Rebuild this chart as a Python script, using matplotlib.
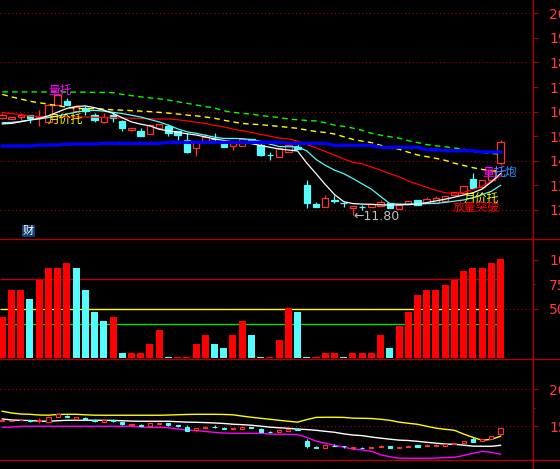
#!/usr/bin/env python3
"""
plot.py
Daily candles with moving averages, a 0-100 indicator histogram and a
compressed price panel underneath, drawn in the black trading-terminal look.
"""
import matplotlib
matplotlib.use("Agg")
import matplotlib.pyplot as plt
from matplotlib.lines import Line2D

plt.rcParams['font.family'] = ['DejaVu Sans', 'Noto Sans CJK SC']

# --- candles (one entry per trading day) ---
OPEN = [15.75, 15.71, 15.80, 15.85, 15.76, 15.59, 16.27, 16.43, 16.02, 16.16,
        15.86, 15.59, 15.86, 15.63, 15.24, 15.22, 15.08, 15.35, 15.41, 15.21,
        14.85, 14.51, 14.82, 14.89, 14.71, 14.60, 14.60, 14.87, 14.64, 14.25,
        14.17, 14.37, 14.57, 13.02, 12.24, 12.11, 12.39, 12.28, 12.08, 12.12,
        12.13, 12.16, 12.27, 12.03, 12.24, 12.41, 12.27, 12.30, 12.38, 12.61,
        12.68, 13.25, 12.95, 13.22, 13.90]
HIGH = [15.95, 15.80, 15.93, 15.88, 16.07, 16.30, 16.72, 16.55, 16.25, 16.23,
        15.94, 15.94, 15.94, 15.65, 15.35, 15.33, 15.46, 15.50, 15.50, 15.21,
        15.12, 14.78, 15.09, 15.12, 14.85, 14.71, 14.87, 14.90, 14.82, 14.37,
        14.52, 14.64, 14.71, 13.22, 12.34, 12.61, 12.61, 12.34, 12.16, 12.20,
        12.24, 12.41, 12.27, 12.20, 12.38, 12.41, 12.54, 12.57, 12.57, 12.74,
        12.98, 13.52, 13.22, 13.63, 14.85]
LOW = [15.70, 15.71, 15.65, 15.52, 15.42, 15.55, 16.25, 16.27, 16.00, 15.86,
       15.58, 15.55, 15.58, 15.20, 15.22, 15.00, 15.08, 15.30, 15.02, 14.85,
       14.30, 14.21, 14.82, 14.78, 14.57, 14.44, 14.60, 14.78, 14.20, 14.03,
       14.17, 14.37, 14.47, 12.07, 12.11, 12.11, 12.27, 12.11, 11.80, 12.00,
       12.13, 12.16, 12.07, 12.03, 12.24, 12.20, 12.27, 12.30, 12.38, 12.61,
       12.68, 12.88, 12.95, 13.22, 13.83]
CLOSE = [15.85, 15.78, 15.88, 15.75, 15.79, 16.27, 16.67, 16.27, 16.20, 16.02,
         15.66, 15.79, 15.73, 15.32, 15.35, 15.02, 15.46, 15.50, 15.12, 15.05,
         14.37, 14.78, 14.96, 14.88, 14.57, 14.71, 14.87, 14.78, 14.24, 14.23,
         14.52, 14.64, 14.47, 12.30, 12.11, 12.48, 12.38, 12.27, 12.16, 12.11,
         12.24, 12.34, 12.07, 12.20, 12.38, 12.20, 12.43, 12.48, 12.57, 12.74,
         12.98, 12.88, 13.22, 13.63, 14.78]

# --- moving averages on the price panel ---
MA_WHITE = [15.50, 15.52, 15.59, 15.66, 15.72, 15.83, 15.98, 16.13, 16.21, 16.23,
            16.16, 16.06, 15.93, 15.75, 15.58, 15.49, 15.42, 15.28, 15.22, 15.16,
            15.10, 15.05, 14.97, 14.89, 14.83, 14.77, 14.74, 14.70, 14.62, 14.55,
            14.48, 14.44, 14.40, 13.91, 13.48, 13.04, 12.63, 12.34, 12.26, 12.24,
            12.23, 12.21, 12.20, 12.21, 12.22, 12.24, 12.30, 12.37, 12.44, 12.52,
            12.61, 12.70, 12.85, 13.14, 13.48]
MA_CYAN = [15.55, 15.56, 15.60, 15.66, 15.70, 15.76, 15.82, 15.90, 15.98, 16.03,
           16.05, 16.02, 15.97, 15.92, 15.85, 15.78, 15.68, 15.58, 15.45, 15.30,
           15.18, 15.12, 15.04, 14.96, 14.91, 14.91, 14.90, 14.86, 14.79, 14.68,
           14.58, 14.57, 14.57, 14.40, 14.06, 13.82, 13.62, 13.48, 13.28, 13.06,
           12.85, 12.55, 12.26, 12.24, 12.24, 12.24, 12.26, 12.27, 12.31, 12.36,
           12.41, 12.50, 12.62, 12.76, 13.00]
MA_RED = [15.96, 15.92, 15.88, 15.82, 15.80, 15.79, 15.79, 15.79, 15.79, 15.78,
          15.77, 15.76, 15.75, 15.74, 15.73, 15.72, 15.71, 15.70, 15.70, 15.67,
          15.62, 15.57, 15.52, 15.44, 15.38, 15.29, 15.22, 15.15, 15.07, 15.00,
          14.92, 14.89, 14.80, 14.66, 14.53, 14.38, 14.23, 14.08, 13.94, 13.88,
          13.75, 13.62, 13.48, 13.35, 13.18, 13.05, 12.92, 12.80, 12.70, 12.68,
          12.72, 12.83, 12.96, 13.17, 13.38]
MA_YELLOW = [16.70, 16.60, 16.51, 16.42, 16.36, 16.30, 16.24, 16.18, 16.13, 16.12,
             16.12, 16.10, 16.07, 16.06, 16.04, 16.02, 16.00, 15.97, 15.94, 15.90,
             15.86, 15.83, 15.78, 15.73, 15.65, 15.58, 15.52, 15.49, 15.47, 15.43,
             15.40, 15.36, 15.32, 15.25, 15.19, 15.15, 15.09, 14.98, 14.87, 14.80,
             14.74, 14.63, 14.55, 14.47, 14.35, 14.24, 14.17, 14.10, 14.02, 13.90,
             13.81, 13.72, 13.65, 13.60, 13.57]
MA_GREEN = [16.80, 16.80, 16.80, 16.80, 16.80, 16.80, 16.80, 16.80, 16.79, 16.79,
            16.78, 16.78, 16.77, 16.70, 16.65, 16.60, 16.56, 16.52, 16.47, 16.40,
            16.34, 16.27, 16.20, 16.15, 16.03, 15.97, 15.93, 15.90, 15.84, 15.80,
            15.76, 15.70, 15.67, 15.64, 15.62, 15.55, 15.45, 15.40, 15.33, 15.24,
            15.12, 15.04, 14.98, 14.92, 14.82, 14.74, 14.66, 14.61, 14.57, 14.52,
            14.47, 14.38, 14.34, 14.30, 14.26]
MA_BLUE = [14.60, 14.60, 14.60, 14.60, 14.64, 14.64, 14.64, 14.68, 14.68, 14.68,
           14.68, 14.71, 14.71, 14.71, 14.71, 14.71, 14.71, 14.71, 14.75, 14.75,
           14.75, 14.75, 14.75, 14.75, 14.75, 14.75, 14.75, 14.75, 14.75, 14.75,
           14.75, 14.71, 14.71, 14.71, 14.71, 14.71, 14.63, 14.63, 14.63, 14.63,
           14.63, 14.55, 14.55, 14.55, 14.55, 14.55, 14.45, 14.45, 14.41, 14.41,
           14.41, 14.41, 14.36, 14.36, 14.36]

# --- 0-100 indicator histogram ('r' = red bar, 'c' = cyan bar) ---
IND_VALUES = [42, 69, 69, 60, 79, 92, 92, 97, 92, 69,
              47, 38, 42, 5, 5, 5, 14, 29, 1, 1,
              1, 14, 24, 14, 10, 24, 38, 24, 1, 1,
              19, 51, 47, 1, 1, 5, 5, 1, 5, 5,
              5, 24, 10, 33, 47, 64, 69, 69, 74, 79,
              88, 92, 92, 97, 101]
IND_COLORS = ['r', 'r', 'r', 'c', 'r', 'r', 'r', 'r', 'c', 'c',
              'c', 'c', 'r', 'c', 'r', 'r', 'r', 'r', 'c', 'r',
              'r', 'r', 'r', 'c', 'c', 'r', 'r', 'c', 'c', 'r',
              'r', 'r', 'c', 'c', 'r', 'r', 'r', 'c', 'r', 'r',
              'r', 'r', 'c', 'r', 'r', 'r', 'r', 'r', 'r', 'r',
              'r', 'r', 'r', 'r', 'r']
IND_LEVELS = [80, 50, 35]
IND_LEVEL_COLORS = ['#c00000', '#ffff00', '#00e000']

# --- lower panel lines ---
SUB_YELLOW = [17.03, 16.80, 16.66, 16.62, 16.52, 16.50, 16.60, 16.62, 16.62, 16.55,
              16.50, 16.49, 16.49, 16.49, 16.49, 16.49, 16.49, 16.49, 16.52, 16.56,
              16.60, 16.62, 16.62, 16.62, 16.60, 16.55, 16.38, 16.22, 16.08, 15.95,
              15.81, 15.68, 15.56, 15.90, 16.20, 16.22, 16.22, 16.20, 16.10, 16.08,
              16.05, 15.95, 15.81, 15.56, 15.41, 15.27, 15.00, 14.75, 14.59, 14.46,
              13.95, 13.51, 13.11, 13.24, 13.65]
SUB_WHITE = [15.99, 15.85, 15.81, 15.78, 15.70, 15.68, 15.75, 15.81, 15.81, 15.81,
             15.81, 15.81, 15.79, 15.75, 15.70, 15.68, 15.68, 15.68, 15.68, 15.62,
             15.56, 15.54, 15.50, 15.45, 15.38, 15.28, 15.22, 15.14, 15.02, 14.88,
             14.80, 14.73, 14.62, 14.56, 14.46, 14.32, 14.19, 13.98, 13.82, 13.74,
             13.55, 13.40, 13.26, 13.13, 13.08, 12.97, 12.84, 12.72, 12.60, 12.57,
             12.45, 12.32, 12.30, 12.30, 12.43]
SUB_MAGENTA = [14.86, 14.90, 15.00, 15.00, 15.00, 15.00, 15.00, 15.00, 15.00, 15.00,
               15.00, 15.00, 15.00, 15.00, 15.00, 14.90, 14.86, 14.86, 14.80, 14.65,
               14.48, 14.42, 14.30, 14.18, 14.08, 14.05, 14.05, 14.05, 14.03, 13.95,
               13.92, 13.92, 13.88, 13.50, 13.00, 12.70, 12.45, 12.18, 11.92, 11.80,
               11.62, 11.15, 10.89, 10.70, 10.68, 10.68, 10.68, 10.70, 10.78, 10.81,
               11.05, 11.35, 11.60, 11.49, 11.22]

PRICE_TICKS = [12, 13, 14, 15, 16, 17, 18, 19, 20]
PRICE_GRID = [12, 14, 16, 18, 20]
IND_TICKS = [50, 100]
IND_MINOR = [75]
SUB_TICKS = [15, 20]
SUB_MINOR = [17.5]
LOW_MARK = '←11.80'

# --- layout (pixels of the 560x469 output) ---
W, H = 560, 469
AX_RIGHT = 533
RED_AXIS = '#b00000'
RED_LABEL = '#ff3c3c'
RED = '#ff3232'
BAR_RED = '#ff0000'
CYAN = '#54fcfc'
X_MIN, X_MAX = -0.25, 57.52
DOTS = (0, (1, 2.5))


def make_axes(fig, top, bottom, ylim):
    ax = fig.add_axes([0, 1 - bottom / H, AX_RIGHT / W, (bottom - top) / H])
    ax.set_facecolor('black')
    ax.set_xlim(X_MIN, X_MAX)
    ax.set_ylim(*ylim)
    ax.set_xticks([])
    for s in ax.spines.values():
        s.set_visible(False)
    ax.yaxis.tick_right()
    ax.tick_params(axis='y', which='both', colors=RED_AXIS, labelcolor=RED_LABEL,
                   width=0.8, labelsize=10, direction='out')
    ax.tick_params(axis='y', which='major', length=3.6, pad=8)
    ax.tick_params(axis='y', which='minor', length=1.5, pad=10.1)
    return ax


def draw_candles(ax, width, lw):
    for i in range(len(CLOSE)):
        o, h, l, c = OPEN[i], HIGH[i], LOW[i], CLOSE[i]
        up = c >= o
        col = RED if up else CYAN
        lo_b, hi_b = min(o, c), max(o, c)
        ax.vlines(i, l, lo_b, color=col, lw=lw, zorder=2)
        ax.vlines(i, hi_b, h, color=col, lw=lw, zorder=2)
        ax.bar(i, max(hi_b - lo_b, 1e-3), bottom=lo_b, width=width,
               facecolor='black' if up else col, edgecolor=col, linewidth=lw, zorder=2)


fig = plt.figure(figsize=(W / 100, H / 100), dpi=100, facecolor='black')
xs = list(range(len(CLOSE)))

# price panel
ax_p = make_axes(fig, 0, 239, (10.821, 20.537))
for g in PRICE_GRID:
    ax_p.axhline(g, color=RED_AXIS, ls=DOTS, lw=0.8, zorder=0)
draw_candles(ax_p, 0.7, 0.9)
ax_p.plot(xs, MA_GREEN, color='#00ff00', lw=1, dashes=(4, 3), zorder=3)
ax_p.plot(xs, MA_YELLOW, color='#ffff00', lw=1, dashes=(4, 3), zorder=3)
ax_p.plot(xs, MA_RED, color='#ff0000', lw=0.9, zorder=3)
ax_p.plot(xs, MA_CYAN, color=CYAN, lw=0.9, zorder=3)
ax_p.plot(xs, MA_WHITE, color='white', lw=0.9, zorder=3)
ax_p.plot(xs, MA_BLUE, color='#0000ff', lw=2.4, zorder=3)
ax_p.set_yticks(PRICE_TICKS)
ax_p.set_yticklabels([str(t) for t in PRICE_TICKS])

cjk = ['Noto Sans CJK SC', 'DejaVu Sans']
ax_p.text(4.95, 16.84, '量托', color='#ff00ff', fontsize=8.5, family=cjk, va='center', zorder=5)
ax_p.text(4.95, 15.70, '月价托', color='#ffff00', fontsize=8.5, family=cjk, va='center', zorder=5)
ax_p.text(52.0, 13.54, '量托', color='#ff00ff', fontsize=8.5, family=cjk, va='center', zorder=5)
ax_p.text(53.3, 13.54, '托炮', color='#2f8fff', fontsize=8.5, family=cjk, va='center', zorder=5)
ax_p.text(50.0, 12.47, '月价托', color='#ffff00', fontsize=8.5, family=cjk, va='center', zorder=5)
ax_p.text(48.85, 12.10, '放量突破', color='#ff0000', fontsize=8.5, family=cjk, va='center', zorder=5)
ax_p.text(38.0, 11.73, LOW_MARK, color='#c0c0c0', fontsize=9, va='center', zorder=5)

# indicator panel
ax_v = make_axes(fig, 239, 359, (-0.7, 120.9))
ax_v.axhline(50, color=RED_AXIS, ls=DOTS, lw=0.8, zorder=0)
ax_v.bar(xs, IND_VALUES, width=0.76,
         color=[BAR_RED if c == 'r' else CYAN for c in IND_COLORS], zorder=2)
for lvl, col in zip(IND_LEVELS, IND_LEVEL_COLORS):
    ax_v.hlines(lvl, X_MIN, 53.6, color=col, lw=1, zorder=1)
ax_v.set_yticks(IND_TICKS)
ax_v.set_yticklabels([str(t) for t in IND_TICKS])
ax_v.set_yticks(IND_MINOR, minor=True)
ax_v.set_yticklabels([str(t) for t in IND_MINOR], minor=True)

# lower panel: same candles squeezed, plus three lines
ax_s = make_axes(fig, 359, 460, (10.446, 24.09))
for g in SUB_TICKS:
    ax_s.axhline(g, color=RED_AXIS, ls=DOTS, lw=0.8, zorder=0)
ax_s.plot(xs, SUB_YELLOW, color='#ffff00', lw=1, zorder=1)
ax_s.plot(xs, SUB_WHITE, color='white', lw=1, zorder=1)
ax_s.plot(xs, SUB_MAGENTA, color='#ff00ff', lw=1, zorder=1)
draw_candles(ax_s, 0.45, 0.8)
ax_s.set_yticks(SUB_TICKS)
ax_s.set_yticklabels([str(t) for t in SUB_TICKS])
ax_s.set_yticks(SUB_MINOR, minor=True)
ax_s.set_yticklabels([''], minor=True)

# panel separators and the right axis line
for y in (239, 359, 460):
    fig.add_artist(Line2D([0, 1], [1 - y / H] * 2, transform=fig.transFigure,
                          color=RED_AXIS, lw=1))
fig.add_artist(Line2D([AX_RIGHT / W] * 2, [0, 1], transform=fig.transFigure,
                      color=RED_AXIS, lw=1))

fig.text(23 / W, 1 - 231 / H, '财', color='white', fontsize=8, family=cjk,
         va='center', ha='left',
         bbox=dict(boxstyle='square,pad=0.08', fc='#0e3f7a', ec='none'))

fig.savefig('out.png', dpi=100, facecolor='black')
